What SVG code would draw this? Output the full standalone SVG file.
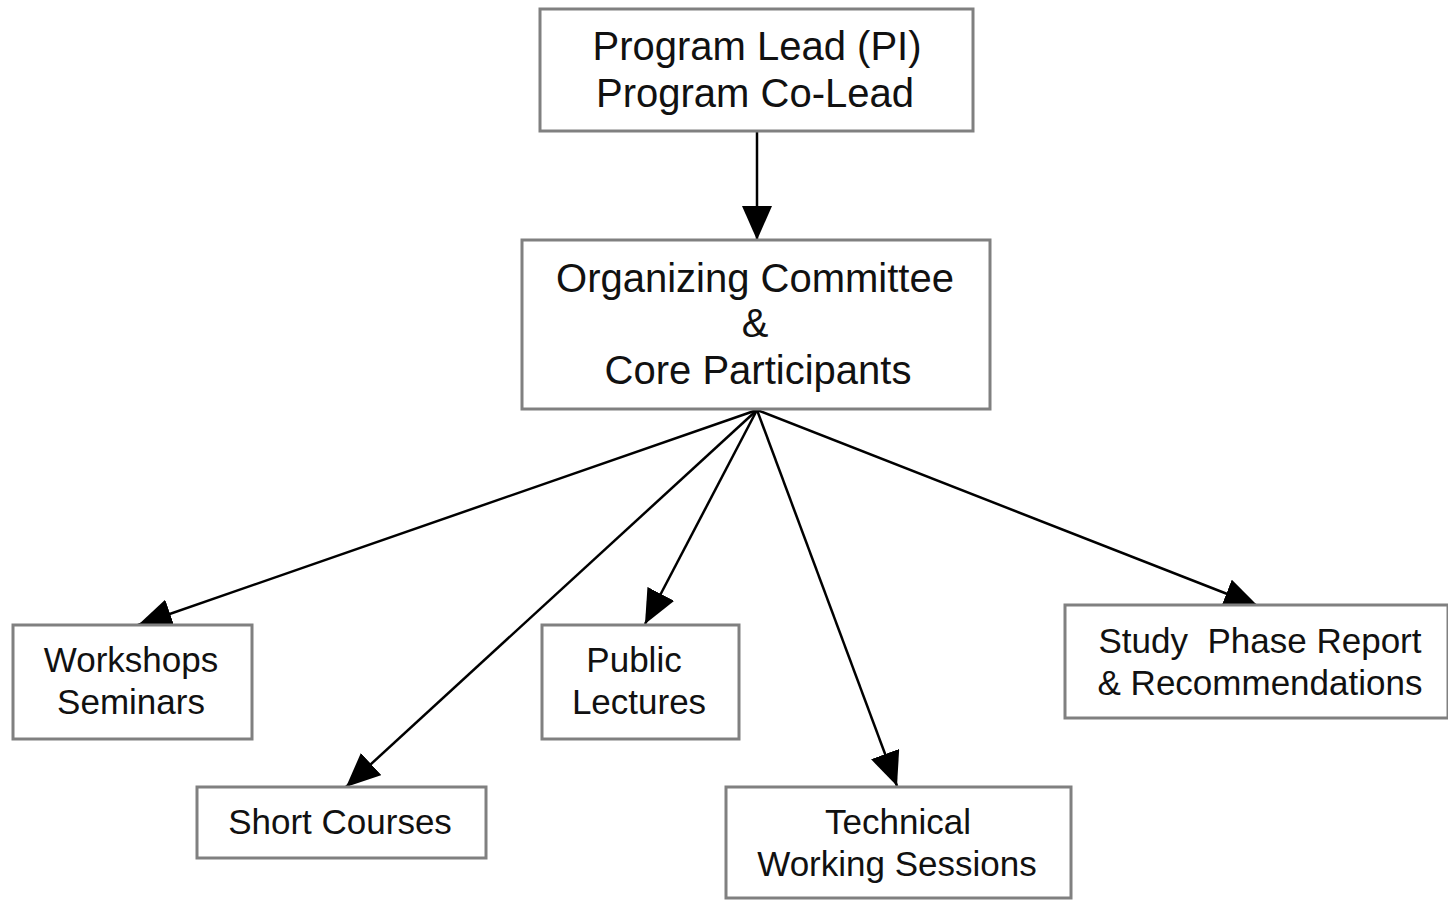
<svg xmlns="http://www.w3.org/2000/svg" width="1448" height="900" viewBox="0 0 1448 900">
<style>
.box{fill:#fff;stroke:#808080;stroke-width:3}
.t{font-family:"Liberation Sans",Arial,sans-serif;fill:#111;text-anchor:middle}
.big{font-size:40px}
.sm{font-size:35px}
.edge{stroke:#000;stroke-width:2.5;fill:none;marker-end:url(#ah)}
</style>
<defs>
<marker id="ah" markerUnits="userSpaceOnUse" markerWidth="34" markerHeight="30" refX="34" refY="15" orient="auto">
<path d="M0,0 L34,15 L0,30 Z" fill="#000"/>
</marker>
</defs>
<rect width="1448" height="900" fill="#fff"/>
<g id="connectors">
<line class="edge" x1="757" y1="132" x2="757" y2="240"/>
<line class="edge" x1="757" y1="410" x2="138" y2="625"/>
<line class="edge" x1="757" y1="410" x2="346" y2="787"/>
<line class="edge" x1="757" y1="410" x2="645" y2="624"/>
<line class="edge" x1="757" y1="410" x2="897" y2="786"/>
<line class="edge" x1="757" y1="410" x2="1258" y2="606"/>
</g>
<g id="lead">
<rect class="box" x="540" y="9" width="433" height="122"/>
<text class="t big" x="757" y="60">Program Lead (PI)</text>
<text class="t big" x="755" y="107">Program Co-Lead</text>
</g>
<g id="committee">
<rect class="box" x="522" y="240" width="468" height="169"/>
<text class="t big" x="755" y="292">Organizing Committee</text>
<text class="t big" x="755" y="337">&amp;</text>
<text class="t big" x="758" y="384">Core Participants</text>
</g>
<g id="workshops">
<rect class="box" x="13" y="625" width="239" height="114"/>
<text class="t sm" x="131" y="672">Workshops</text>
<text class="t sm" x="131" y="714">Seminars</text>
</g>
<g id="short">
<rect class="box" x="197" y="787" width="289" height="71"/>
<text class="t sm" x="340" y="834">Short Courses</text>
</g>
<g id="public">
<rect class="box" x="542" y="625" width="197" height="114"/>
<text class="t sm" x="634" y="672">Public</text>
<text class="t sm" x="639" y="714">Lectures</text>
</g>
<g id="technical">
<rect class="box" x="726" y="787" width="345" height="111"/>
<text class="t sm" x="898" y="834">Technical</text>
<text class="t sm" x="897" y="876">Working Sessions</text>
</g>
<g id="study">
<rect class="box" x="1065" y="605" width="383" height="113"/>
<text class="t sm" x="1260" y="653" xml:space="preserve">Study  Phase Report</text>
<text class="t sm" x="1260" y="695">&amp; Recommendations</text>
</g>
</svg>
